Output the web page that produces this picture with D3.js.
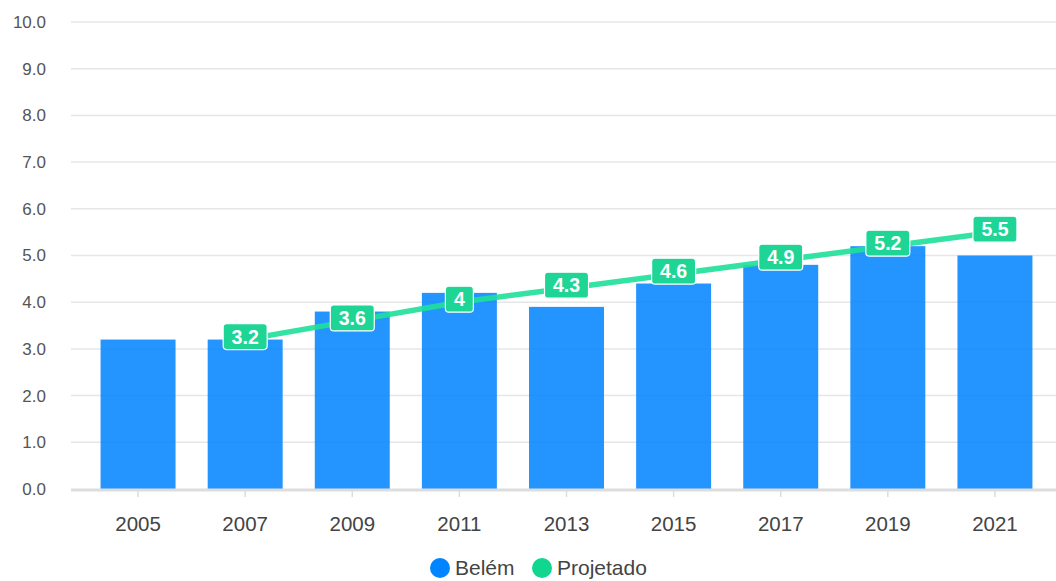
<!DOCTYPE html>
<html>
<head>
<meta charset="utf-8">
<script src="https://cdn.jsdelivr.net/npm/d3@7"></script>
<style>
  body { margin: 0; background: #fff; }
  svg { font-family: "Liberation Sans", Arial, sans-serif; }
</style>
</head>
<body>
<script>
// data
const years = ["2005", "2007", "2009", "2011", "2013", "2015", "2017", "2019", "2021"];
const belem = [3.2, 3.2, 3.8, 4.2, 3.9, 4.4, 4.8, 5.2, 5.0];
const projYears = ["2007", "2009", "2011", "2013", "2015", "2017", "2019", "2021"];
const projetado = [3.2, 3.6, 4.0, 4.3, 4.6, 4.9, 5.2, 5.5];
const yTicks = [0, 1, 2, 3, 4, 5, 6, 7, 8, 9, 10];
const seriesNames = ["Belém", "Projetado"];

const W = 1056, H = 581;
const gridLeft = 71;
const blue = "#0084ff", green = "#10d68f";

const svg = d3.select("body").append("svg")
    .attr("width", W).attr("height", H);

const x = d3.scaleBand()
    .domain(years)
    .range([84.5, 1048.5])
    .paddingInner(0.3)
    .paddingOuter(0.15);

const y = d3.scaleLinear()
    .domain([0, 10])
    .range([489, 22]);

// gridlines
svg.append("g").selectAll("line")
    .data(yTicks.filter(d => d > 0))
    .enter().append("line")
    .attr("x1", gridLeft).attr("x2", W)
    .attr("y1", d => y(d)).attr("y2", d => y(d))
    .attr("stroke", "#e6e6e6").attr("stroke-width", 1.5);

// y labels
svg.append("g").selectAll("text")
    .data(yTicks)
    .enter().append("text")
    .attr("x", 46).attr("y", d => y(d))
    .attr("dy", "0.35em")
    .attr("text-anchor", "end")
    .attr("font-size", 17)
    .attr("fill", "#555")
    .text(d => d.toFixed(1));

// bars
svg.append("g").selectAll("rect")
    .data(belem)
    .enter().append("rect")
    .attr("x", (d, i) => x(years[i]))
    .attr("y", d => y(d))
    .attr("width", x.bandwidth())
    .attr("height", d => y(0) - y(d))
    .attr("fill", blue)
    .attr("fill-opacity", 0.86);

// x axis
const xAxis = d3.axisBottom(x).tickSize(7).tickPadding(19);
const gx = svg.append("g")
    .attr("transform", "translate(0," + (y(0) + 1) + ")")
    .call(xAxis);
gx.select(".domain").remove();
gx.selectAll(".tick line").attr("stroke", "#ddd").attr("stroke-width", 1.5);
gx.selectAll(".tick text")
    .attr("font-size", 20.5)
    .attr("fill", "#444")
    .attr("font-family", "'Liberation Sans', Arial, sans-serif");
svg.append("line")
    .attr("x1", gridLeft).attr("x2", W)
    .attr("y1", y(0) + 1).attr("y2", y(0) + 1)
    .attr("stroke", "#ddd").attr("stroke-width", 3);

// projected line
const cx = d => x(d) + x.bandwidth() / 2;
const line = d3.line()
    .x((d, i) => cx(projYears[i]))
    .y(d => y(d));
svg.append("path")
    .datum(projetado)
    .attr("d", line)
    .attr("fill", "none")
    .attr("stroke", "#1ee09a")
    .attr("stroke-opacity", 0.9)
    .attr("stroke-width", 5.5);

// value labels
const labels = svg.append("g").selectAll("g")
    .data(projetado)
    .enter().append("g")
    .attr("transform", (d, i) => "translate(" + cx(projYears[i]) + "," + (y(d) - 3) + ")");
labels.append("rect")
    .attr("x", d => d % 1 === 0 ? -14 : -22)
    .attr("y", -13)
    .attr("width", d => d % 1 === 0 ? 28 : 44)
    .attr("height", 26)
    .attr("rx", 3.5)
    .attr("fill", "#1fd596")
    .attr("stroke", "#fff")
    .attr("stroke-width", 1.2);
labels.append("text")
    .attr("text-anchor", "middle")
    .attr("dy", "0.36em")
    .attr("font-size", 19.5)
    .attr("font-weight", "bold")
    .attr("fill", "#fff")
    .text(d => d3.format("")(d));

// legend
const legend = svg.append("g").attr("transform", "translate(0,568)");
const legendItems = [
    {name: seriesNames[0], color: blue, x: 440},
    {name: seriesNames[1], color: green, x: 542}
];
const li = legend.selectAll("g").data(legendItems).enter().append("g")
    .attr("transform", d => "translate(" + d.x + ",0)");
li.append("circle").attr("r", 10).attr("fill", d => d.color);
li.append("text")
    .attr("x", 15).attr("dy", "0.35em")
    .attr("font-size", 21)
    .attr("fill", "#444")
    .text(d => d.name);
</script>
</body>
</html>
